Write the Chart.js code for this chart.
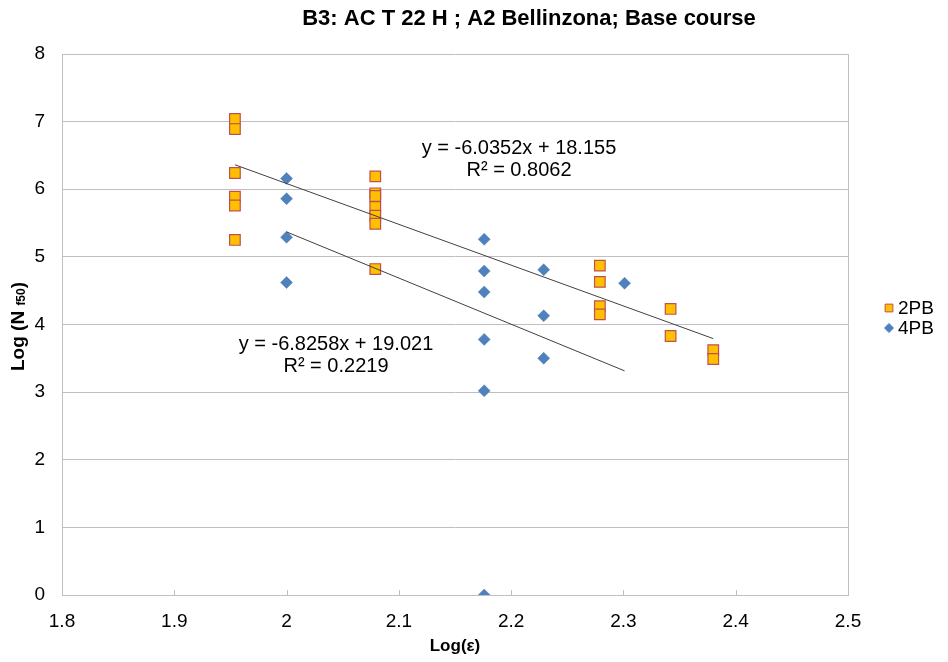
<!DOCTYPE html>
<html>
<head>
<meta charset="utf-8">
<script src="https://cdn.jsdelivr.net/npm/chart.js@4/dist/chart.umd.min.js"></script>
<style>
  html, body { margin: 0; padding: 0; background: #ffffff; }
  #wrap { width: 948px; height: 662px; position: relative; }
</style>
</head>
<body>
<div id="wrap"><canvas id="c" width="948" height="662"></canvas></div>
<script>
// Fatigue results: Log(strain) against Log(N f50)
const titleText = 'B3: AC T 22 H ; A2 Bellinzona; Base course';
const seriesNames = ['2PB', '4PB'];

// 2PB (two-point bending) specimens
const x2PB = [1.954, 1.954, 1.954, 1.954, 1.954, 1.954,
              2.079, 2.079, 2.079, 2.079, 2.079, 2.079, 2.079,
              2.279, 2.279, 2.279, 2.279,
              2.342, 2.342,
              2.380, 2.380];
const y2PB = [7.04, 6.89, 6.24, 5.89, 5.76, 5.25,
              6.19, 5.94, 5.90, 5.74, 5.61, 5.49, 4.82,
              4.87, 4.63, 4.27, 4.15,
              4.23, 3.83,
              3.62, 3.49];

// 4PB (four-point bending) specimens
const x4PB = [2.0, 2.0, 2.0, 2.0,
              2.176, 2.176, 2.176, 2.176, 2.176, 2.176,
              2.229, 2.229, 2.229,
              2.301];
const y4PB = [6.16, 5.86, 5.29, 4.62,
              5.26, 4.79, 4.48, 3.78, 3.02, 0.0,
              4.81, 4.13, 3.50,
              4.61];

// Linear trend lines: slope, intercept, R²
const trendSlope = [-6.0352, -6.8258];
const trendIntercept = [18.155, 19.021];
const trendR2 = ['0.8062', '0.2219'];

// Axis ticks
const xTicks = [1.8, 1.9, 2.0, 2.1, 2.2, 2.3, 2.4, 2.5];
const yTicks = [0, 1, 2, 3, 4, 5, 6, 7, 8];

// Label anchors (data units) for the trend equations
const eqPosX = [2.207, 2.044];
const eqPosY = [6.60, 3.70];

const colSqFill = '#FFC000';
const colSqBorder = '#C0504D';
const colDiamond = '#4F81BD';
const colGrid = '#BFBFBF';
const fontFamily = 'Arial, "Liberation Sans", sans-serif';

function pts(xs, ys) { return xs.map((x, i) => ({ x: x, y: ys[i] })); }
function trend(xs, k) {
  const x0 = Math.min(...xs), x1 = Math.max(...xs);
  return [
    { x: x0, y: trendSlope[k] * x0 + trendIntercept[k] },
    { x: x1, y: trendSlope[k] * x1 + trendIntercept[k] }
  ];
}
function fmtEq(k) {
  const b = trendIntercept[k];
  return 'y = ' + trendSlope[k].toFixed(4) + 'x ' + (b >= 0 ? '+ ' : '- ') + Math.abs(b).toFixed(3);
}

const decor = {
  id: 'decor',
  afterDatasetsDraw(chart) {
    const ctx = chart.ctx, a = chart.chartArea;
    const xs = chart.scales.x, ys = chart.scales.y;
    ctx.save();
    // right border of the plot
    ctx.strokeStyle = colGrid; ctx.lineWidth = 1;
    ctx.beginPath();
    ctx.moveTo(Math.round(a.right) + 0.5, a.top);
    ctx.lineTo(Math.round(a.right) + 0.5, a.bottom);
    ctx.stroke();
    // small inside tick marks on the x axis
    ctx.beginPath();
    xTicks.forEach(v => {
      const px = Math.round(xs.getPixelForValue(v)) + 0.5;
      ctx.moveTo(px, a.bottom);
      ctx.lineTo(px, a.bottom - 5);
    });
    ctx.stroke();

    // trend equations
    ctx.fillStyle = '#000000';
    ctx.font = '20px ' + fontFamily;
    ctx.textAlign = 'center';
    ctx.textBaseline = 'middle';
    for (let k = 0; k < 2; k++) {
      const px = xs.getPixelForValue(eqPosX[k]);
      const py = ys.getPixelForValue(eqPosY[k]);
      ctx.fillText(fmtEq(k), px, py);
      ctx.fillText('R\u00B2 = ' + trendR2[k], px, py + 22);
    }

    // title
    ctx.font = 'bold 22px ' + fontFamily;
    ctx.fillText(titleText, 529, 19);

    // x axis title
    ctx.font = 'bold 17px ' + fontFamily;
    ctx.fillText('Log(\u03B5)', (a.left + a.right) / 2, 646);

    // y axis title with subscript
    ctx.save();
    ctx.translate(19, (a.top + a.bottom) / 2 + 2);
    ctx.rotate(-Math.PI / 2);
    const fMain = 'bold 19px ' + fontFamily, fSub = 'bold 12px ' + fontFamily;
    ctx.font = fMain; const w1 = ctx.measureText('Log (N ').width;
    ctx.font = fSub; const w2 = ctx.measureText('f50').width;
    ctx.font = fMain; const w3 = ctx.measureText(')').width;
    let sx = -(w1 + w2 + w3) / 2;
    ctx.textAlign = 'left';
    ctx.font = fMain; ctx.fillText('Log (N ', sx, 0); sx += w1;
    ctx.font = fSub; ctx.fillText('f50', sx, 3); sx += w2;
    ctx.font = fMain; ctx.fillText(')', sx, 0);
    ctx.restore();

    // legend
    const lx = 889, ly = [308, 328];
    ctx.textAlign = 'left';
    ctx.font = '19px ' + fontFamily;
    ctx.fillStyle = colSqFill; ctx.strokeStyle = colSqBorder; ctx.lineWidth = 1;
    Chart.helpers.drawPoint(ctx, { pointStyle: 'rect', radius: 5.5, rotation: 0, borderWidth: 1 }, lx, ly[0]);
    ctx.fillStyle = colDiamond; ctx.strokeStyle = colDiamond;
    Chart.helpers.drawPoint(ctx, { pointStyle: 'rectRot', radius: 4.5, rotation: 0, borderWidth: 1 }, lx, ly[1]);
    ctx.fillStyle = '#000000';
    ctx.fillText(seriesNames[0], 898, ly[0] + 1);
    ctx.fillText(seriesNames[1], 898, ly[1] + 1);
    ctx.restore();
  }
};

new Chart(document.getElementById('c'), {
  type: 'scatter',
  data: {
    datasets: [
      {
        label: seriesNames[0],
        data: pts(x2PB, y2PB),
        pointStyle: 'rect',
        pointRadius: 7.5,
        pointBackgroundColor: colSqFill,
        pointBorderColor: colSqBorder,
        pointBorderWidth: 1.2,
        order: 2
      },
      {
        label: seriesNames[1],
        data: pts(x4PB, y4PB),
        pointStyle: 'rectRot',
        pointRadius: 6,
        pointBackgroundColor: colDiamond,
        pointBorderColor: colDiamond,
        pointBorderWidth: 0.5,
        order: 3
      },
      {
        label: 'trend 2PB',
        type: 'line',
        data: trend(x2PB, 0),
        borderColor: '#404040',
        borderWidth: 1,
        pointRadius: 0,
        fill: false,
        order: 1
      },
      {
        label: 'trend 4PB',
        type: 'line',
        data: trend(x4PB, 1),
        borderColor: '#404040',
        borderWidth: 1,
        pointRadius: 0,
        fill: false,
        order: 1
      }
    ]
  },
  options: {
    responsive: false,
    animation: false,
    devicePixelRatio: 1,
    layout: { padding: { top: 54, right: 100, bottom: 0, left: 0 } },
    plugins: {
      legend: { display: false },
      title: { display: false },
      tooltip: { enabled: false }
    },
    scales: {
      x: {
        type: 'linear',
        min: xTicks[0],
        max: xTicks[xTicks.length - 1],
        afterBuildTicks: s => { s.ticks = xTicks.map(v => ({ value: v })); },
        ticks: {
          callback: v => String(+v.toFixed(1)),
          font: { family: fontFamily, size: 19 },
          color: '#000000',
          padding: 15,
          maxRotation: 0
        },
        grid: { display: false, drawTicks: false },
        border: { display: true, color: colGrid },
        afterFit: s => { s.height = 67; }
      },
      y: {
        type: 'linear',
        min: yTicks[0],
        max: yTicks[yTicks.length - 1],
        afterBuildTicks: s => { s.ticks = yTicks.map(v => ({ value: v })); },
        ticks: {
          font: { family: fontFamily, size: 19 },
          color: '#000000',
          padding: 17
        },
        grid: { color: colGrid, drawTicks: false },
        border: { display: true, color: colGrid },
        afterFit: s => { s.width = 62; }
      }
    }
  },
  plugins: [decor]
});
</script>
</body>
</html>
